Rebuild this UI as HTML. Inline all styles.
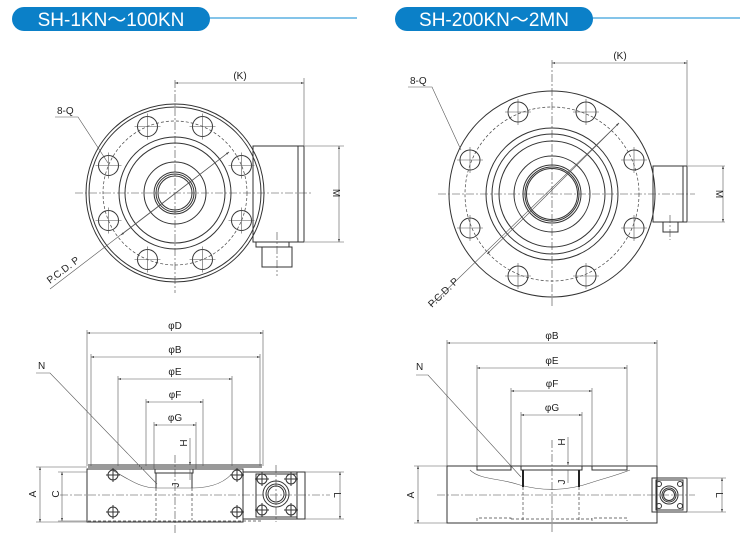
<!DOCTYPE html>
<html><head><meta charset="utf-8"><style>
html,body{margin:0;padding:0;background:#fff;}
svg{display:block;font-family:"Liberation Sans",sans-serif;}
.l{stroke:#333;stroke-width:1;fill:none;}
.t{stroke:#555;stroke-width:0.6;fill:none;}
.c{stroke:#444;stroke-width:0.6;fill:none;stroke-dasharray:8 2 2 2;}
.d{stroke:#444;stroke-width:0.7;fill:none;stroke-dasharray:3 2;}
.tx{font-size:10px;fill:#222;}
</style></head><body>
<svg width="750" height="540" viewBox="0 0 750 540" xmlns="http://www.w3.org/2000/svg">
<defs>
<marker id="a" viewBox="0 0 10 10" refX="10" refY="5" markerWidth="7" markerHeight="5" orient="auto-start-reverse"><path d="M0,1.5L10,5L0,8.5z" fill="#444"/></marker>
<g id="hole"><circle r="10" class="l"/><line x1="-13" y1="0" x2="13" y2="0" class="t"/><line x1="0" y1="-13" x2="0" y2="13" class="t"/></g>
<g id="bolt"><circle r="5" class="l"/><line x1="-7" y1="0" x2="7" y2="0" class="l"/><line x1="0" y1="-7" x2="0" y2="7" class="l"/></g>
</defs>

<!-- headers -->
<line x1="205" y1="18" x2="357" y2="18" stroke="#3aa0dc" stroke-width="1.2"/>
<rect x="12" y="7" width="198" height="24" rx="12" fill="#0b80c8"/>
<text x="111" y="26" text-anchor="middle" font-size="19" fill="#fff">SH-1KN～100KN</text>
<line x1="590" y1="18" x2="740" y2="18" stroke="#3aa0dc" stroke-width="1.2"/>
<rect x="395" y="7" width="198" height="24" rx="12" fill="#0b80c8"/>
<text x="494" y="26" text-anchor="middle" font-size="19" fill="#fff">SH-200KN～2MN</text>

<!-- LEFT TOP VIEW -->
<rect x="253" y="146" width="51" height="96" class="l"/>
<line x1="298" y1="146" x2="298" y2="242" class="l"/>
<rect x="256" y="242" width="33" height="5" class="l"/>
<rect x="262" y="247" width="30" height="20" class="l"/>
<circle cx="175" cy="193" r="89" fill="#fff" class="l"/>
<circle cx="175" cy="193" r="86" class="l"/>
<circle cx="175" cy="193" r="72" class="d"/>
<circle cx="175" cy="193" r="56" class="l"/>
<circle cx="175" cy="193" r="50" class="l"/>
<circle cx="175" cy="193" r="31" class="l"/>
<circle cx="175" cy="193" r="21" class="l"/>
<circle cx="175" cy="193" r="19" class="l"/>
<circle cx="175" cy="193" r="17" class="l"/>
<g transform="translate(175,193)">
<use href="#hole" x="-27.5" y="-66.5"/><use href="#hole" x="27.5" y="-66.5"/>
<use href="#hole" x="-66.5" y="-27.5"/><use href="#hole" x="66.5" y="-27.5"/>
<use href="#hole" x="-66.5" y="27.5"/><use href="#hole" x="66.5" y="27.5"/>
<use href="#hole" x="-27.5" y="66.5"/><use href="#hole" x="27.5" y="66.5"/>
</g>
<line x1="175" y1="80" x2="175" y2="293" class="c"/>
<line x1="75" y1="193" x2="312" y2="193" class="c"/>
<line x1="277" y1="232" x2="277" y2="276" class="c"/>
<!-- K -->
<line x1="304" y1="78" x2="304" y2="146" class="t"/>
<line x1="175" y1="83" x2="304" y2="83" class="t" marker-start="url(#a)" marker-end="url(#a)"/>
<text x="240" y="79" text-anchor="middle" class="tx">(K)</text>
<!-- M -->
<line x1="305" y1="146" x2="344" y2="146" class="t"/>
<line x1="305" y1="242" x2="344" y2="242" class="t"/>
<line x1="339" y1="146" x2="339" y2="242" class="t" marker-start="url(#a)" marker-end="url(#a)"/>
<text transform="translate(333,193) rotate(90)" text-anchor="middle" class="tx">M</text>
<!-- 8-Q -->
<text x="57" y="114" class="tx">8-Q</text>
<polyline points="55,117 78,117 108,163" class="t"/>
<!-- PCD -->
<line x1="229" y1="152" x2="50" y2="289" class="t"/>
<line x1="150" y1="213" x2="229" y2="152" class="t" marker-end="url(#a)"/>
<line x1="150" y1="213" x2="121" y2="235" class="t" marker-end="url(#a)"/>
<text transform="translate(50,284) rotate(-37)" class="tx">P.C.D. P</text>

<!-- RIGHT TOP VIEW -->
<rect x="653" y="166" width="34" height="56" class="l"/>
<line x1="683" y1="166" x2="683" y2="222" class="l"/>
<rect x="663" y="222" width="15" height="10" class="l"/>
<circle cx="552" cy="194" r="103" fill="#fff" class="l"/>
<circle cx="552" cy="194" r="87" class="d"/>
<circle cx="552" cy="194" r="66" class="l"/>
<circle cx="552" cy="194" r="60" class="l"/>
<circle cx="552" cy="194" r="53" class="l"/>
<circle cx="552" cy="194" r="38" class="l"/>
<circle cx="552" cy="194" r="29" class="l"/>
<circle cx="552" cy="194" r="27" class="l"/>
<circle cx="552" cy="194" r="25.5" class="l"/>
<g transform="translate(552,194)">
<use href="#hole" x="-34" y="-82"/><use href="#hole" x="34" y="-82"/>
<use href="#hole" x="-82" y="-34"/><use href="#hole" x="82" y="-34"/>
<use href="#hole" x="-82" y="34"/><use href="#hole" x="82" y="34"/>
<use href="#hole" x="-34" y="82"/><use href="#hole" x="34" y="82"/>
</g>
<line x1="552" y1="60" x2="552" y2="308" class="c"/>
<line x1="438" y1="194" x2="695" y2="194" class="c"/>
<line x1="670" y1="215" x2="670" y2="240" class="c"/>
<line x1="687" y1="60" x2="687" y2="166" class="t"/>
<line x1="552" y1="63" x2="687" y2="63" class="t" marker-start="url(#a)" marker-end="url(#a)"/>
<text x="620" y="59" text-anchor="middle" class="tx">(K)</text>
<line x1="688" y1="166" x2="725" y2="166" class="t"/>
<line x1="688" y1="222" x2="725" y2="222" class="t"/>
<line x1="723" y1="166" x2="723" y2="222" class="t" marker-start="url(#a)" marker-end="url(#a)"/>
<text transform="translate(716,194) rotate(90)" text-anchor="middle" class="tx">M</text>
<text x="410" y="84" class="tx">8-Q</text>
<polyline points="408,87 432,87 461,150" class="t"/>
<line x1="619" y1="123" x2="430" y2="306" class="t"/>
<line x1="526" y1="216" x2="619" y2="123" class="t" marker-end="url(#a)"/>
<line x1="526" y1="216" x2="487" y2="254" class="t" marker-end="url(#a)"/>
<text transform="translate(432,308) rotate(-44)" class="tx">P.C.D. P</text>

<!-- LEFT SIDE VIEW -->
<line x1="88" y1="467" x2="262" y2="467" class="l"/>
<line x1="88" y1="465" x2="262" y2="465" class="l"/>
<rect x="87" y="469" width="156" height="53" class="l"/>
<line x1="88" y1="521" x2="262" y2="521" class="d"/>
<rect x="243" y="472" width="62" height="47" class="l"/>
<rect x="256" y="474" width="41" height="43" class="l"/>
<line x1="297" y1="472" x2="297" y2="519" class="l"/>
<circle cx="276" cy="494" r="13" class="l"/><circle cx="276" cy="494" r="10" class="l"/><circle cx="276" cy="494" r="8" class="l"/>
<use href="#bolt" x="262" y="479"/><use href="#bolt" x="291" y="479"/><use href="#bolt" x="262" y="510"/><use href="#bolt" x="291" y="510"/>
<use href="#bolt" x="113" y="475"/><use href="#bolt" x="237" y="475"/><use href="#bolt" x="113" y="512"/><use href="#bolt" x="237" y="512"/>
<path d="M112,470 C130,480 140,488 157,488 L192,488 C215,488 228,480 235,470" class="t"/>
<rect x="155" y="469" width="38" height="4" class="l"/>
<line x1="156" y1="473" x2="156" y2="488" class="l"/><line x1="192" y1="473" x2="192" y2="488" class="l"/>
<line x1="156" y1="488" x2="156" y2="520" class="d"/><line x1="192" y1="488" x2="192" y2="520" class="d"/>
<line x1="175" y1="455" x2="175" y2="533" class="c"/>
<line x1="60" y1="495" x2="330" y2="495" class="c"/>
<line x1="276" y1="465" x2="276" y2="522" class="c"/>
<!-- dims -->
<line x1="87" y1="330" x2="87" y2="466" class="t"/><line x1="263" y1="330" x2="263" y2="466" class="t"/>
<line x1="87" y1="333" x2="263" y2="333" class="t" marker-start="url(#a)" marker-end="url(#a)"/>
<text x="175" y="329" text-anchor="middle" class="tx">φD</text>
<line x1="91" y1="354" x2="91" y2="466" class="t"/><line x1="260" y1="354" x2="260" y2="466" class="t"/>
<line x1="91" y1="357" x2="260" y2="357" class="t" marker-start="url(#a)" marker-end="url(#a)"/>
<text x="175" y="353" text-anchor="middle" class="tx">φB</text>
<line x1="118" y1="376" x2="118" y2="466" class="t"/><line x1="232" y1="376" x2="232" y2="466" class="t"/>
<line x1="118" y1="379" x2="232" y2="379" class="t" marker-start="url(#a)" marker-end="url(#a)"/>
<text x="175" y="375" text-anchor="middle" class="tx">φE</text>
<line x1="146" y1="399" x2="146" y2="466" class="t"/><line x1="203" y1="399" x2="203" y2="466" class="t"/>
<line x1="146" y1="402" x2="203" y2="402" class="t" marker-start="url(#a)" marker-end="url(#a)"/>
<text x="175" y="398" text-anchor="middle" class="tx">φF</text>
<line x1="154" y1="422" x2="154" y2="469" class="t"/><line x1="196" y1="422" x2="196" y2="469" class="t"/>
<line x1="154" y1="425" x2="196" y2="425" class="t" marker-start="url(#a)" marker-end="url(#a)"/>
<text x="175" y="421" text-anchor="middle" class="tx">φG</text>
<line x1="190" y1="438" x2="190" y2="465" class="t" marker-end="url(#a)"/>
<line x1="190" y1="469" x2="190" y2="480" class="t"/>
<text transform="translate(187,443) rotate(-90)" text-anchor="middle" class="tx">H</text>
<text transform="translate(179,485) rotate(-90)" text-anchor="middle" class="tx">J</text>
<line x1="36" y1="467" x2="87" y2="467" class="t"/><line x1="36" y1="522" x2="87" y2="522" class="t"/>
<line x1="40" y1="467" x2="40" y2="522" class="t" marker-start="url(#a)" marker-end="url(#a)"/>
<text transform="translate(36,494) rotate(-90)" text-anchor="middle" class="tx">A</text>
<line x1="58" y1="472" x2="87" y2="472" class="t"/><line x1="58" y1="521" x2="87" y2="521" class="t"/>
<line x1="62" y1="472" x2="62" y2="521" class="t" marker-start="url(#a)" marker-end="url(#a)"/>
<text transform="translate(59,494) rotate(-90)" text-anchor="middle" class="tx">C</text>
<line x1="305" y1="472" x2="344" y2="472" class="t"/><line x1="305" y1="519" x2="344" y2="519" class="t"/>
<line x1="340" y1="472" x2="340" y2="519" class="t" marker-start="url(#a)" marker-end="url(#a)"/>
<text transform="translate(334,495) rotate(90)" text-anchor="middle" class="tx">L</text>
<text x="38" y="369" class="tx">N</text>
<polyline points="36,373 50,373 157,484" class="t"/>

<!-- RIGHT SIDE VIEW -->
<rect x="447" y="466" width="210" height="57" class="l"/>
<rect x="477" y="466" width="34" height="4" class="l"/>
<rect x="592" y="466" width="35" height="4" class="l"/>
<rect x="521" y="466" width="61" height="4" class="l"/>
<path d="M470,470 C480,480 500,478 520,485 C545,492 570,490 590,483 C605,478 615,476 630,470" class="t"/>
<line x1="523" y1="470" x2="523" y2="487" stroke="#222" stroke-width="2"/><line x1="579" y1="470" x2="579" y2="487" stroke="#222" stroke-width="2"/>
<line x1="523" y1="487" x2="523" y2="521" class="d"/><line x1="579" y1="487" x2="579" y2="521" class="d"/>
<path d="M477,521 L477,518 L511,518 L511,521 M592,521 L592,518 L627,518 L627,521 M511,519 L592,519" class="d"/>
<rect x="652" y="478" width="35" height="34" class="l"/>
<rect x="656" y="480" width="27" height="30" class="l"/>
<circle cx="669" cy="495" r="9" class="l"/><circle cx="669" cy="495" r="7" class="l"/><circle cx="669" cy="495" r="5.5" class="l"/>
<circle cx="659" cy="484" r="2.5" class="l"/><circle cx="680" cy="484" r="2.5" class="l"/><circle cx="659" cy="506" r="2.5" class="l"/><circle cx="680" cy="506" r="2.5" class="l"/>
<line x1="552" y1="440" x2="552" y2="532" class="c"/>
<line x1="437" y1="495" x2="695" y2="495" class="c"/>
<line x1="447" y1="340" x2="447" y2="466" class="t"/><line x1="657" y1="340" x2="657" y2="466" class="t"/>
<line x1="447" y1="343" x2="657" y2="343" class="t" marker-start="url(#a)" marker-end="url(#a)"/>
<text x="552" y="339" text-anchor="middle" class="tx">φB</text>
<line x1="477" y1="365" x2="477" y2="466" class="t"/><line x1="627" y1="365" x2="627" y2="466" class="t"/>
<line x1="477" y1="368" x2="627" y2="368" class="t" marker-start="url(#a)" marker-end="url(#a)"/>
<text x="552" y="364" text-anchor="middle" class="tx">φE</text>
<line x1="511" y1="388" x2="511" y2="466" class="t"/><line x1="592" y1="388" x2="592" y2="466" class="t"/>
<line x1="511" y1="391" x2="592" y2="391" class="t" marker-start="url(#a)" marker-end="url(#a)"/>
<text x="552" y="387" text-anchor="middle" class="tx">φF</text>
<line x1="521" y1="412" x2="521" y2="466" class="t"/><line x1="582" y1="412" x2="582" y2="466" class="t"/>
<line x1="521" y1="415" x2="582" y2="415" class="t" marker-start="url(#a)" marker-end="url(#a)"/>
<text x="552" y="411" text-anchor="middle" class="tx">φG</text>
<line x1="568" y1="437" x2="568" y2="465" class="t" marker-end="url(#a)"/>
<line x1="568" y1="470" x2="568" y2="483" class="t"/>
<text transform="translate(565,442) rotate(-90)" text-anchor="middle" class="tx">H</text>
<text transform="translate(565,482) rotate(-90)" text-anchor="middle" class="tx">J</text>
<line x1="414" y1="466" x2="447" y2="466" class="t"/><line x1="414" y1="523" x2="447" y2="523" class="t"/>
<line x1="418" y1="466" x2="418" y2="523" class="t" marker-start="url(#a)" marker-end="url(#a)"/>
<text transform="translate(414,495) rotate(-90)" text-anchor="middle" class="tx">A</text>
<line x1="688" y1="478" x2="726" y2="478" class="t"/><line x1="688" y1="512" x2="726" y2="512" class="t"/>
<line x1="722" y1="478" x2="722" y2="512" class="t" marker-start="url(#a)" marker-end="url(#a)"/>
<text transform="translate(716,495) rotate(90)" text-anchor="middle" class="tx">L</text>
<text x="416" y="370" class="tx">N</text>
<polyline points="416,375 428,375 521,477" class="t"/>
</svg>
</body></html>
